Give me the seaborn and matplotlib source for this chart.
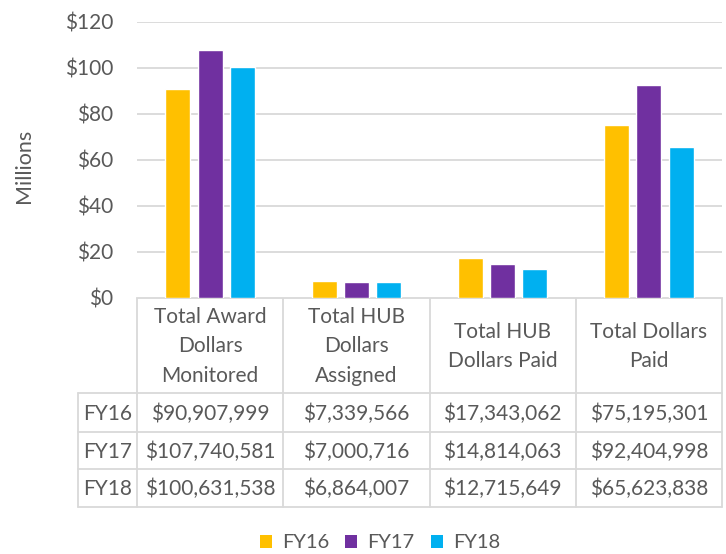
import matplotlib.pyplot as plt
import pandas as pd
import seaborn as sns
from matplotlib.patches import Patch

# Data
categories = ["Total Award\nDollars\nMonitored", "Total HUB\nDollars\nAssigned",
              "Total HUB\nDollars Paid", "Total Dollars\nPaid"]
years = ["FY16", "FY17", "FY18"]
fy16 = [90907999, 7339566, 17343062, 75195301]
fy17 = [107740581, 7000716, 14814063, 92404998]
fy18 = [100631538, 6864007, 12715649, 65623838]
colors = ["#FFC000", "#7030A0", "#00B0F0"]

TEXT = "#595959"
GRID = "#d9d9d9"
W, H = 726, 554

sns.set_style("white")
plt.rcParams['font.family'] = ['Lato', 'DejaVu Sans']

rows = []
for year, vals in zip(years, [fy16, fy17, fy18]):
    for cat, v in zip(categories, vals):
        rows.append({"category": cat, "year": year, "millions": v / 1e6})
df = pd.DataFrame(rows)

fig = plt.figure(figsize=(W / 100, H / 100), dpi=100)
fig.patch.set_facecolor("white")

# main chart area (pixel box 137..722 x 22..298)
ax = fig.add_axes([137 / W, 1 - 298 / H, 585 / W, 276 / H])
sns.barplot(data=df, x="category", y="millions", hue="year", palette=colors,
            width=0.66, gap=0.22, ax=ax, legend=False, saturation=1)
ax.set_ylim(0, 120)
ax.set_yticks(range(0, 121, 20))
ax.set_yticklabels([f"${v}" for v in range(0, 121, 20)], color=TEXT, fontsize=15)
ax.tick_params(axis="y", length=0, pad=17)
ax.set_xticks(range(len(categories)))
ax.set_xticklabels([])
ax.tick_params(axis="x", length=0)
ax.set_xlim(-0.5, len(categories) - 0.5)
ax.set_xlabel("")
ax.set_ylabel("Millions", color=TEXT, fontsize=15.5)
ax.yaxis.set_label_coords(-0.176, 0.478)
ax.grid(axis="y", color=GRID, linewidth=1.3)
ax.set_axisbelow(True)
for s in ax.spines.values():
    s.set_visible(False)

# data table below the chart, drawn in pixel coordinates
tab = fig.add_axes([0, 0, 1, 1], zorder=-1)
tab.set_xlim(0, W)
tab.set_ylim(H, 0)
tab.axis("off")

fig.canvas.draw()
col_edges = [ax.transData.transform((i - 0.5, 0))[0] for i in range(len(categories) + 1)]
label_left = 78
row_edges = [298, 393, 432, 469, 507]
lw = 1.3

# horizontal lines
tab.plot([col_edges[0], col_edges[-1]], [row_edges[0]] * 2, color=GRID, lw=lw)
for y in row_edges[1:]:
    tab.plot([label_left, col_edges[-1]], [y, y], color=GRID, lw=lw)
# vertical lines
for x in col_edges:
    tab.plot([x, x], [row_edges[0], row_edges[-1]], color=GRID, lw=lw)
tab.plot([label_left, label_left], [row_edges[1], row_edges[-1]], color=GRID, lw=lw)

# header text
for i, cat in enumerate(categories):
    cx = (col_edges[i] + col_edges[i + 1]) / 2
    tab.text(cx, (row_edges[0] + row_edges[1]) / 2 + 1, cat, ha="center", va="center",
             fontsize=15, color=TEXT, linespacing=1.62)

# body rows
for r, (year, vals) in enumerate(zip(years, [fy16, fy17, fy18])):
    cy = (row_edges[r + 1] + row_edges[r + 2]) / 2 + 1
    tab.text((label_left + col_edges[0]) / 2, cy, year, ha="center", va="center",
             fontsize=15, color=TEXT)
    for i, v in enumerate(vals):
        cx = (col_edges[i] + col_edges[i + 1]) / 2
        tab.text(cx, cy, f"${v:,}", ha="center", va="center", fontsize=15, color=TEXT)

# legend
handles = [Patch(facecolor=c, edgecolor="none", label=y) for c, y in zip(colors, years)]
fig.legend(handles=handles, loc="center", bbox_to_anchor=(380 / W, 1 - 543 / H),
           ncol=3, frameon=False, fontsize=14.5, labelcolor=TEXT,
           handlelength=0.6, handleheight=0.6, handletextpad=0.5, columnspacing=0.8)

fig.savefig("out.png", dpi=100, facecolor="white")
